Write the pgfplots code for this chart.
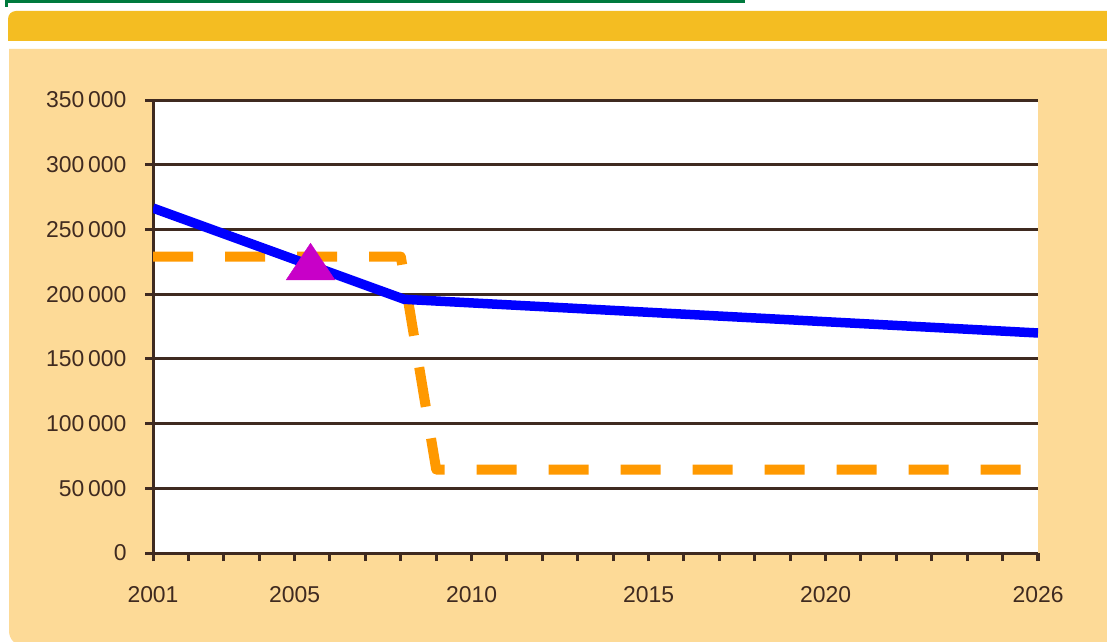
\documentclass[border=0pt]{standalone}
\usepackage{pgfplots}
\pgfplotsset{compat=1.18}
\usepackage{fontspec}
\setmainfont{Liberation Sans}
\definecolor{gold}{HTML}{F4BD22}
\definecolor{peach}{HTML}{FDDA97}
\definecolor{dgreen}{HTML}{007A3D}
\definecolor{brn}{HTML}{3F2A20}
\definecolor{orng}{HTML}{FF9900}
\definecolor{magen}{HTML}{C800C8}
\begin{document}
\begin{tikzpicture}[x=1bp,y=1bp]
\useasboundingbox (0,0) rectangle (1107,-642);
\fill[white] (0,0) rectangle (1107,-642);
\fill[dgreen] (5,0) rectangle (745,-3);
\fill[dgreen] (5,0) rectangle (7.5,-7);
\fill[gold] (8,-41) {[rounded corners=8bp] -- (8,-11) -- (1120,-11)} -- (1120,-41) -- cycle;
\fill[peach] (1120,-49) -- (9,-49) {[rounded corners=15bp] -- (9,-646) -- (1120,-646)} -- cycle;
\begin{axis}[
  at={(153bp,-553bp)}, anchor=south west,
  scale only axis, width=885bp, height=453bp,
  xmin=2001, xmax=2026, ymin=0, ymax=350000,
  axis x line*=bottom, axis y line*=left,
  axis background/.style={fill=white},
  axis line style={brn, line width=3bp},
  every tick/.style={brn, line width=3bp},
  tick align=outside,
  major tick length=8bp, minor tick length=8bp,
  xtick={2001,2005,2010,2015,2020,2026},
  xticklabels={2001,2005,2010,2015,2020,2026},
  minor xtick={2001,2002,...,2026},
  ytick={0,50000,100000,150000,200000,250000,300000,350000},
  yticklabels={0,50\,000,100\,000,150\,000,200\,000,250\,000,300\,000,350\,000},
  scaled y ticks=false,
  ymajorgrids, major grid style={brn, line width=3bp},
  ticklabel style={font=\fontsize{23}{27}\selectfont, text=brn},
  xticklabel style={yshift=-22bp},
  yticklabel style={xshift=-15bp},
]
\addplot[orng, line width=10bp, dash pattern=on 40bp off 32bp, line join=round] coordinates {(2001,229000)(2008,229000)(2009,64500)(2026,64500)};
\addplot[blue, line width=9.5bp] coordinates {(2001,266500)(2008.1,196000)(2026,170000)};
\addplot[only marks, mark=triangle*, mark size=24.5bp, magen, mark options={xscale=1.15}] coordinates {(2005.45,220400)};
\end{axis}
\end{tikzpicture}
\end{document}
